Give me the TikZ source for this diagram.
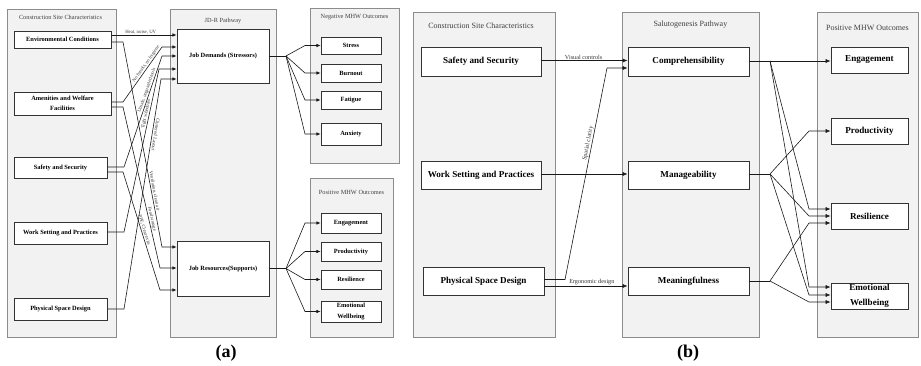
\documentclass[tikz,border=0pt]{standalone}
\usepackage{fontspec}
\setmainfont{Liberation Serif}
\usetikzlibrary{arrows.meta,shadows}
\begin{document}
\begin{tikzpicture}[x=1pt,y=-1pt,
  panel/.style={draw=black!45,fill=black!5,line width=0.6pt,inner sep=0pt,outer sep=0pt,anchor=north west},
  ptitle/.style={font=\fontsize{6.3}{7}\selectfont,text=black!75,inner sep=0pt},
  ptitleb/.style={font=\fontsize{8}{9}\selectfont,text=black!75,inner sep=0pt},
  boxa/.style={draw=black!80,fill=white,line width=0.7pt,align=center,inner sep=0pt,
    font=\bfseries\fontsize{6.4}{10.5}\selectfont,
    drop shadow={shadow xshift=0.9pt,shadow yshift=-0.9pt,fill=black!35}},
  boxb/.style={boxa,font=\bfseries\fontsize{9.1}{15.5}\selectfont},
  conn/.style={draw=black!90,line width=0.6pt},
  arr/.style={conn,-{Latex[length=4.2pt,width=3.4pt]}},
  arrb/.style={conn,-{Latex[length=5pt,width=4pt]}},
  lbl/.style={font=\fontsize{4.8}{5}\selectfont,inner sep=0.7pt,text=black!80},
  lblb/.style={font=\fontsize{6.2}{7}\selectfont,inner sep=0.8pt,text=black!80},
  sub/.style={font=\bfseries\fontsize{18}{20}\selectfont}
]
\useasboundingbox (0,0) rectangle (921,366);

% ---------------- (a) JD-R model ----------------
\node[panel,minimum width=109pt,minimum height=328pt] (csa) at (7,9) {};
\node[panel,minimum width=106pt,minimum height=328pt] (jdr) at (170,9) {};
\node[panel,minimum width=89pt,minimum height=155pt] (nega) at (310,8) {};
\node[panel,minimum width=83pt,minimum height=159pt] (posa) at (310,178) {};

\node[ptitle] (csat) at (60.5,17) {Construction Site Characteristics};
\node[ptitle] (jdrt) at (223,21) {JD-R Pathway};
\node[ptitle] (negat) at (354.5,17) {Negative MHW Outcomes};
\node[ptitle] (posat) at (351.5,192) {Positive MHW Outcomes};

\node[boxa,minimum width=97pt,minimum height=17pt] (env) at (62.5,39.5) {Environmental Conditions};
\node[boxa,minimum width=97pt,minimum height=23pt] (amen) at (62.5,103.5) {Amenities and Welfare\\Facilities};
\node[boxa,minimum width=93pt,minimum height=21pt] (safe) at (60.5,167.5) {Safety and Security};
\node[boxa,minimum width=93pt,minimum height=22pt] (work) at (60.5,233) {Work Setting and Practices};
\node[boxa,minimum width=93pt,minimum height=22pt] (phys) at (60.5,309) {Physical Space Design};

\node[boxa,minimum width=92pt,minimum height=54pt] (jd) at (223,56) {Job Demands (Stressors)};
\node[boxa,minimum width=92pt,minimum height=55pt] (jr) at (223,268.5) {Job Resources(Supports)};

\node[boxa,minimum width=60pt,minimum height=17pt] (stress) at (351,45.5) {Stress};
\node[boxa,minimum width=60pt,minimum height=18pt] (burn) at (351,73) {Burnout};
\node[boxa,minimum width=60pt,minimum height=18pt] (fat) at (351,100) {Fatigue};
\node[boxa,minimum width=60pt,minimum height=22pt] (anx) at (351,134) {Anxiety};

\node[boxa,minimum width=60pt,minimum height=20pt] (enga) at (351,223) {Engagement};
\node[boxa,minimum width=60pt,minimum height=19pt] (proda) at (351,251.5) {Productivity};
\node[boxa,minimum width=60pt,minimum height=19pt] (resa) at (351,279.5) {Resilience};
\node[boxa,minimum width=60pt,minimum height=21pt] (ewa) at (351,311.5) {Emotional\\Wellbeing};

% site characteristics -> job demands
\draw[arr] (env.east |- 0,35) -- node[lbl,above,pos=0.45] {Heat, noise, UV} (jd.west |- 0,35);
\draw[arr] (amen.east |- 0,102) -- (123,102) -- node[lbl,sloped,above,pos=0.66] {No breaks, no hygiene} (162,47) -- (jd.west |- 0,47);
\draw[arr] (safe.east |- 0,167) -- (124,167) -- node[lbl,sloped,above,pos=0.68] {Unsafe, unguarded tools} (162,56) -- (jd.west |- 0,56);
\draw[arr] (work.east |- 0,232) -- (124,232) -- node[lbl,sloped,above,pos=0.72] {Tight schedules} (159,69) -- (jd.west |- 0,69);
\draw[arr] (phys.east |- 0,309) -- (124,309) -- node[lbl,rotate=-99,anchor=south,pos=0.76] {Cluttered Layout} (161,79) -- (jd.west |- 0,79);

% site characteristics -> job resources
\draw[arr] (env.east |- 0,42) -- (123,42) -- node[lbl,sloped,above,pos=0.73] {Ventilation, clean air} (162,247) -- (jr.west |- 0,247);
\draw[arr] (amen.east |- 0,107) -- (123,107) -- node[lbl,sloped,above,pos=0.7] {Food storage} (160,268) -- (jr.west |- 0,268);
\draw[arr] (safe.east |- 0,172) -- (123,172) -- node[lbl,sloped,above,pos=0.5] {PPE, Clear exits} (160,290) -- (jr.west |- 0,290);

% job demands -> negative outcomes
\draw[conn] (jd.east) -- (286,56) coordinate (jdfan);
\foreach \t in {stress,burn,fat,anx}
  \draw[arr] (jdfan) -- (305,0 |- \t.west) -- (\t.west);

% job resources -> positive outcomes
\draw[conn] (jr.east) -- (286,268.5) coordinate (jrfan);
\foreach \t in {enga,proda,resa,ewa}
  \draw[arr] (jrfan) -- (305,0 |- \t.west) -- (\t.west);

\node[sub] (suba) at (226,353) {(a)};

% ---------------- (b) Salutogenesis model ----------------
\node[panel,minimum width=142pt,minimum height=325pt] (csb) at (413,12) {};
\node[panel,minimum width=137pt,minimum height=325pt] (salb) at (622,12) {};
\node[panel,minimum width=101pt,minimum height=325pt] (posb) at (817,12) {};

\node[ptitleb] (csbt) at (481,26) {Construction Site Characteristics};
\node[ptitleb] (salbt) at (690.5,25) {Salutogenesis Pathway};
\node[ptitleb] (posbt) at (867.5,28) {Positive MHW Outcomes};

\node[boxb,minimum width=120pt,minimum height=29pt] (safeb) at (481,61.5) {Safety and Security};
\node[boxb,minimum width=120pt,minimum height=28pt] (workb) at (481,175) {Work Setting and Practices};
\node[boxb,minimum width=121pt,minimum height=28pt] (physb) at (483.5,281) {Physical Space Design};

\node[boxb,minimum width=121pt,minimum height=29pt] (comp) at (688.5,61.5) {Comprehensibility};
\node[boxb,minimum width=121pt,minimum height=28pt] (mana) at (688.5,175) {Manageability};
\node[boxb,minimum width=121pt,minimum height=28pt] (mean) at (688.5,281) {Meaningfulness};

\node[boxb,minimum width=77pt,minimum height=26pt] (engb) at (869.5,60) {Engagement};
\node[boxb,minimum width=77pt,minimum height=26pt] (prodb) at (869.5,131) {Productivity};
\node[boxb,minimum width=77pt,minimum height=26pt] (resb) at (869.5,216) {Resilience};
\node[boxb,minimum width=77pt,minimum height=26pt] (ewb) at (869.5,296) {Emotional\\Wellbeing};

% site characteristics -> salutogenic resources
\draw[arrb] (safeb.east |- 0,60.5) -- node[lblb,above,pos=0.49] {Visual controls} (comp.west |- 0,60.5);
\draw[arrb] (physb.east |- 0,279.5) -- (565,279.5) -- node[lblb,sloped,above,pos=0.64] {Spatial clarity} (607,68) -- (comp.west |- 0,68);
\draw[arrb] (workb.east |- 0,174) -- (mana.west |- 0,174);
\draw[arrb] (physb.east |- 0,286) -- node[lblb,above,pos=0.57] {Ergonomic design} (mean.west |- 0,286);

% salutogenic resources -> positive outcomes
\draw[conn] (comp.east |- 0,61) -- (770,61) coordinate (cfan);
\draw[arrb] (cfan) -- (engb.west |- cfan);
\draw[arrb] (cfan) -- (809,209) -- (resb.west |- 0,209);
\draw[arrb] (cfan) -- (809,287) -- (ewb.west |- 0,287);

\draw[conn] (mana.east |- 0,174) -- (770,174) coordinate (mfan);
\draw[arrb] (mfan) -- (809,131) -- (prodb.west);
\draw[arrb] (mfan) -- (809,216) -- (resb.west |- 0,216);
\draw[arrb] (mfan) -- (809,295) -- (ewb.west |- 0,295);

\draw[conn] (mean.east |- 0,281) -- (770,281) coordinate (nfan);
\draw[arrb] (nfan) -- (809,223) -- (resb.west |- 0,223);
\draw[arrb] (nfan) -- (809,302) -- (ewb.west |- 0,302);

\node[sub] (subb) at (688,353) {(b)};
\end{tikzpicture}
\end{document}
